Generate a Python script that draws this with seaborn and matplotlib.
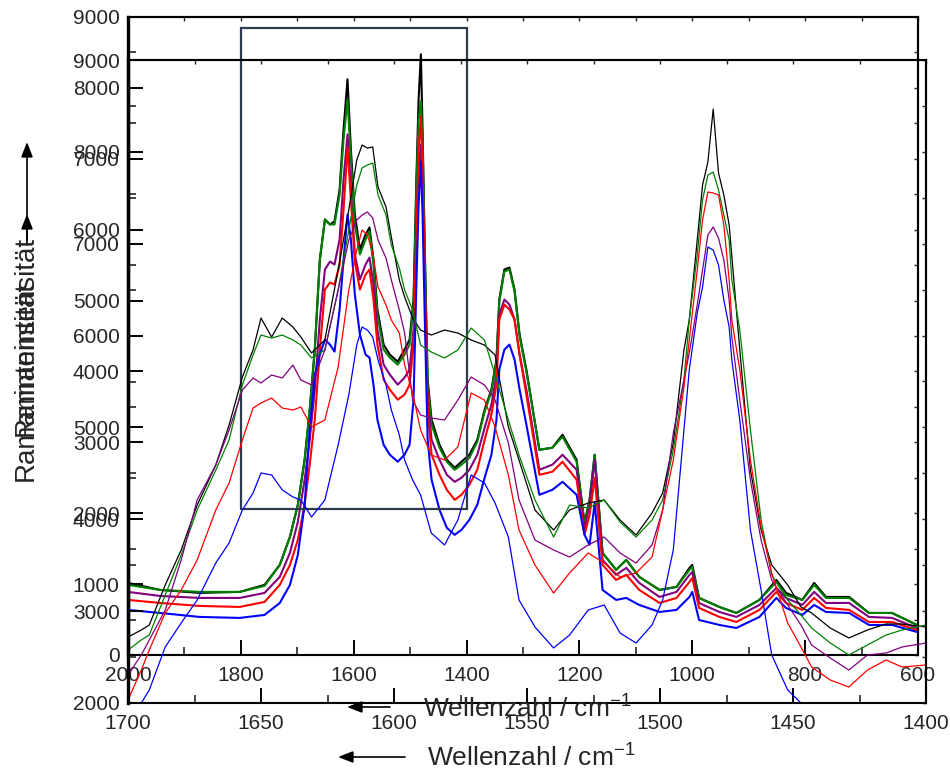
import numpy as np
import pandas as pd
import matplotlib
matplotlib.use("Agg")
import matplotlib.pyplot as plt
import seaborn as sns
from matplotlib.patches import Rectangle, FancyArrowPatch
from matplotlib.ticker import MultipleLocator

sns.set_style("ticks")
plt.rcParams['font.family'] = ['Liberation Sans', 'DejaVu Sans']
plt.rcParams['mathtext.fontset'] = 'custom'
plt.rcParams['mathtext.rm'] = 'Liberation Sans'
plt.rcParams['mathtext.it'] = 'Liberation Sans'

# ---------------- data: full-range spectra (wavenumber 2000-600) ----------------
wn_full = [2000, 1943, 1873, 1802, 1758, 1731, 1713, 1699, 1687, 1678, 1669, 1660, 1651, 1642, 1634,
           1625, 1618, 1611, 1605, 1598, 1589, 1579, 1572, 1565, 1558, 1547, 1536, 1522, 1510, 1501,
           1494, 1489, 1485, 1481, 1478, 1474, 1469, 1462, 1448, 1435, 1421, 1409, 1395, 1381, 1368,
           1356, 1347, 1342, 1333, 1324, 1315, 1306, 1294, 1271, 1248, 1230, 1205, 1191, 1182, 1173,
           1159, 1135, 1117, 1094, 1058, 1028, 1005, 1000, 988, 952, 922, 881, 851, 834, 805, 784,
           763, 722, 687, 646, 602]
full_black = [1017, 918, 876, 890, 989, 1271, 1667, 2119, 2754, 3460, 4308, 5579, 6144, 6073, 6116,
              6568, 7415, 8121, 7133, 6215, 5720, 5932, 6031, 5579, 4873, 4378, 4237, 4138, 4308, 4449,
              5014, 6709, 7839, 8474, 7415, 5720, 3884, 3319, 2966, 2754, 2641, 2726, 2825, 3037, 3460,
              3743, 4167, 5014, 5438, 5466, 5155, 4520, 4025, 2895, 2924, 3107, 2754, 1864, 2189, 2825,
              1441, 1201, 1342, 1102, 918, 960, 1229, 1271, 805, 678, 593, 777, 1059, 876, 777, 1017,
              819, 819, 593, 593, 424]
full_green = [989, 918, 890, 890, 975, 1271, 1667, 2119, 2754, 3460, 4308, 5579, 6144, 6073, 6073,
              6497, 7274, 7839, 6991, 6073, 5650, 5861, 5974, 5508, 4802, 4308, 4195, 4096, 4237, 4378,
              4943, 6568, 7556, 7811, 7274, 5650, 3813, 3249, 2924, 2726, 2613, 2684, 2782, 3008, 3432,
              3715, 4138, 4986, 5409, 5438, 5127, 4491, 3997, 2895, 2924, 3079, 2726, 1836, 2189, 2825,
              1441, 1201, 1342, 1102, 918, 960, 1201, 1243, 805, 678, 593, 777, 1031, 847, 777, 989,
              805, 805, 593, 593, 424]
full_purple = [890, 833, 805, 805, 876, 1102, 1441, 1878, 2472, 3037, 3743, 4732, 5438, 5551, 5508,
               5861, 6709, 7344, 6568, 5650, 5297, 5508, 5607, 5226, 4590, 4096, 3955, 3813, 3912, 4025,
               4590, 6003, 6850, 7203, 6709, 5297, 3602, 3037, 2754, 2542, 2443, 2500, 2613, 2825, 3206,
               3531, 3955, 4802, 5014, 4943, 4732, 4237, 3743, 2613, 2684, 2825, 2613, 1766, 2119, 2754,
               1342, 1130, 1229, 1017, 819, 890, 1130, 1172, 734, 607, 537, 706, 946, 805, 706, 890,
               734, 734, 537, 523, 381]
full_red = [777, 734, 692, 678, 749, 989, 1271, 1624, 2119, 2684, 3319, 4308, 5155, 5254, 5226,
            5508, 6285, 7161, 6426, 5551, 5155, 5367, 5438, 5014, 4378, 3884, 3743, 3602, 3672, 3813,
            4378, 5861, 7133, 7599, 6850, 5226, 3460, 2825, 2542, 2330, 2189, 2260, 2401, 2613, 3037,
            3390, 3813, 4732, 4943, 4873, 4732, 4237, 3672, 2542, 2585, 2726, 2472, 1695, 1977, 2500,
            1271, 1059, 1130, 918, 734, 805, 1031, 1088, 664, 537, 466, 636, 890, 734, 636, 805,
            664, 636, 466, 466, 353]
full_blue = [636, 593, 537, 523, 565, 734, 989, 1412, 2119, 3178, 3955, 4237, 4449, 4378, 4280,
             4873, 5579, 6215, 5861, 5085, 4520, 4237, 4195, 3813, 3319, 2966, 2825, 2726, 2825, 2966,
             3602, 5226, 6356, 6963, 6215, 4732, 3037, 2472, 2048, 1794, 1695, 1766, 1907, 2119, 2500,
             2825, 3319, 4025, 4308, 4378, 4167, 3743, 3249, 2260, 2330, 2443, 2260, 1695, 1554, 2147,
             918, 777, 805, 706, 607, 636, 819, 890, 494, 424, 381, 537, 805, 664, 565, 706,
             607, 593, 424, 424, 325]

# ---------------- data: detail spectra (wavenumber 1700-1400) ----------------
wn_zoom = [1700, 1695, 1692, 1686, 1680, 1674, 1667, 1662, 1657, 1653, 1650, 1646, 1642, 1638, 1635,
           1631, 1626, 1621, 1617, 1614, 1612, 1610, 1608, 1606, 1603, 1601, 1598, 1596, 1593, 1590,
           1586, 1581, 1576, 1571, 1566, 1562, 1557, 1553, 1547, 1540, 1534, 1527, 1521, 1515, 1509,
           1503, 1499, 1495, 1491, 1489, 1486, 1484, 1482, 1480, 1478, 1476, 1474, 1473, 1470, 1466,
           1462, 1458, 1452, 1447, 1443, 1436, 1429, 1422, 1415, 1409, 1400]
zoom_black = [2718, 2795, 2849, 3285, 3666, 4155, 4591, 5026, 5549, 5843, 6191, 5984, 6191, 6093, 5984,
              5810, 5952, 6714, 7367, 7911, 8074, 8042, 8053, 7617, 7399, 7073, 6605, 6420, 6191, 6060,
              6006, 6060, 6028, 5952, 5897, 5788, 5005, 4645, 4101, 3883, 4101, 4177, 4210, 3992, 3829,
              4068, 4286, 4830, 5843, 6169, 7040, 7639, 7889, 8466, 7770, 7530, 7204, 6866, 5843, 4536,
              3883, 3502, 3285, 3045, 2980, 2816, 2708, 2795, 2860, 2860, 2827]
zoom_green = [2577, 2686, 2740, 3176, 3611, 4101, 4536, 4863, 5462, 5788, 6006, 5973, 6006, 5952, 5897,
              5756, 5843, 6496, 7149, 7639, 7824, 7857, 7878, 7530, 7312, 6986, 6735, 6496, 6278, 5897,
              5821, 5756, 5843, 6082, 5952, 5571, 5081, 4700, 4210, 3807, 4155, 4123, 4210, 3970, 3807,
              3992, 4210, 4754, 5516, 6169, 6877, 7476, 7748, 7780, 7584, 7312, 7040, 6605, 6060, 4972,
              3992, 3393, 3121, 2958, 2816, 2653, 2523, 2631, 2740, 2795, 2849]
zoom_purple = [2305, 2523, 2686, 3012, 3557, 4210, 4591, 4972, 5407, 5538, 5484, 5571, 5538, 5679, 5516,
               5462, 5843, 6496, 7040, 7258, 7312, 7345, 7280, 7040, 6844, 6605, 6278, 6028, 5298, 5135,
               5102, 5081, 5298, 5549, 5462, 5298, 4830, 4210, 3774, 3666, 3589, 3720, 3807, 3633, 3524,
               3720, 4101, 4939, 5516, 5810, 6333, 6714, 7095, 7182, 7062, 6822, 6387, 5984, 5298, 4428,
               3774, 3339, 3067, 2849, 2631, 2490, 2359, 2523, 2544, 2610, 2653]
zoom_red = [2033, 2359, 2577, 2980, 3230, 3557, 4101, 4395, 4863, 5211, 5266, 5320, 5211, 5190, 5222,
            5005, 5081, 5658, 6496, 6931, 7149, 7095, 6899, 6529, 6333, 6169, 6028, 5679, 5375, 4972,
            4700, 4645, 4787, 5375, 5298, 5005, 4482, 3883, 3502, 3197, 3415, 3633, 3524, 3372, 3415,
            3589, 4101, 4645, 5440, 5952, 6714, 7258, 7563, 7552, 7530, 7204, 6605, 6169, 5625, 4645,
            3916, 3415, 2871, 2610, 2392, 2250, 2174, 2359, 2468, 2392, 2414]
zoom_blue = [1815, 2000, 2142, 2610, 2871, 3121, 3524, 3742, 4101, 4286, 4504, 4482, 4319, 4243, 4210,
             4025, 4210, 4809, 5353, 5897, 6093, 6060, 5984, 5734, 5462, 5190, 4917, 4645, 4428, 4264,
             3851, 3720, 3992, 4482, 4395, 4177, 3807, 3121, 2827, 2599, 2740, 3012, 3067, 2762, 2653,
             2849, 3121, 3666, 4972, 5625, 6246, 6529, 6964, 6931, 6768, 6387, 6093, 5734, 5081, 3883,
             3230, 2523, 2142, 2000, 1815, 1597, 1380, 1162, 944, 726, 509]

series_names = ["black", "green", "purple", "red", "blue"]
palette = {"black": "#000000", "green": "#008000", "purple": "#800080",
           "red": "#ff0000", "blue": "#0000ff"}

full_vals = [full_black, full_green, full_purple, full_red, full_blue]
zoom_vals = [zoom_black, zoom_green, zoom_purple, zoom_red, zoom_blue]

df_full = pd.concat([pd.DataFrame({"wn": wn_full, "I": v, "s": n})
                     for n, v in zip(series_names, full_vals)], ignore_index=True)
df_zoom = pd.concat([pd.DataFrame({"wn": wn_zoom, "I": v, "s": n})
                     for n, v in zip(series_names, zoom_vals)], ignore_index=True)

W, H = 950, 774
fig = plt.figure(figsize=(W / 100, H / 100), dpi=100)
fig.patch.set_facecolor("white")

def fx(px):
    return px / W

def fy(py):
    return 1 - py / H

ax_b = fig.add_axes([fx(128), fy(655), (918 - 128) / W, (655 - 17) / H])
ax_a = fig.add_axes([fx(128), fy(703), (926 - 128) / W, (703 - 60) / H])
for ax in (ax_b, ax_a):
    ax.set_facecolor("none")

sns.lineplot(data=df_full, x="wn", y="I", hue="s", hue_order=series_names, palette=palette,
             estimator=None, sort=False, legend=False, ax=ax_b, linewidth=1.5)
sns.lineplot(data=df_zoom, x="wn", y="I", hue="s", hue_order=series_names, palette=palette,
             estimator=None, sort=False, legend=False, ax=ax_a, linewidth=0.9)

ax_b.set_xlim(2000, 600)
ax_b.set_ylim(0, 9000)
ax_a.set_xlim(1700, 1400)
ax_a.set_ylim(2000, 9000)

ax_b.xaxis.set_major_locator(MultipleLocator(200))
ax_b.xaxis.set_minor_locator(MultipleLocator(100))
ax_a.xaxis.set_major_locator(MultipleLocator(50))
ax_a.xaxis.set_minor_locator(MultipleLocator(25))
for ax in (ax_b, ax_a):
    ax.yaxis.set_major_locator(MultipleLocator(1000))
    ax.yaxis.set_minor_locator(MultipleLocator(500))
    ax.set_xlabel("")
    ax.set_ylabel("")
    ax.tick_params(which="major", direction="in", length=11, width=1.4, labelsize=15,
                   top=False, right=False, color="black")
    ax.tick_params(which="minor", direction="in", length=6, width=1.2, top=False, right=False)
    ax.tick_params(axis="y", which="major", pad=6)
    ax.tick_params(axis="x", which="major", pad=8)
    for sp in ax.spines.values():
        sp.set_linewidth(1.5)
        sp.set_color("black")
    ax.spines["left"].set_linewidth(2.4)
    ax.grid(False)

# small inner ticks on top and right edges
for ax, xstep, ymin, ymax in ((ax_b, 100, 0, 9000), (ax_a, 25, 2000, 9000)):
    lo, hi = sorted(ax.get_xlim())
    sx = ax.secondary_xaxis("top")
    sx.set_xticks(np.arange(lo, hi + 1, xstep))
    sx.tick_params(direction="in", length=3, width=1.0, labeltop=False)
    sx.spines["top"].set_linewidth(1.5)
    sy = ax.secondary_yaxis("right")
    sy.set_yticks(np.arange(ymin, ymax + 1, 500))
    sy.tick_params(direction="in", length=3, width=1.0, labelright=False)
    sy.spines["right"].set_linewidth(1.5)

# zoom frame
ax_b.add_patch(Rectangle((1400, 2060), 400, 6780, fill=False, edgecolor="#2e3b4e",
                         linewidth=1.6, clip_on=False, zorder=6))

# axis titles
fig.text(fx(423), fy(718), "Wellenzahl / cm$^{-1}$", fontsize=19, ha="left", va="baseline")
fig.text(fx(427), fy(767), "Wellenzahl / cm$^{-1}$", fontsize=19, ha="left", va="baseline")
fig.text(fx(26), fy(381), "Ramanintensität", fontsize=20, rotation=90, ha="center", va="center")
fig.text(fx(26), fy(336), "Ramanintensität", fontsize=20, rotation=90, ha="center", va="center")

def arrow(p0, p1, hl=9, hw=3.5):
    a = FancyArrowPatch((fx(p0[0]), fy(p0[1])), (fx(p1[0]), fy(p1[1])),
                        transform=fig.transFigure,
                        arrowstyle=f"-|>,head_length={hl / 1.39:.2f},head_width={hw / 1.39:.2f}",
                        color="black", linewidth=1.2, shrinkA=0, shrinkB=0,
                        mutation_scale=1.39)
    fig.add_artist(a)

arrow((390, 707), (347, 707))
arrow((405, 757), (338, 757))
arrow((27, 240), (27, 142))
arrow((27, 245), (27, 214))

fig.savefig("out.png", dpi=100)
